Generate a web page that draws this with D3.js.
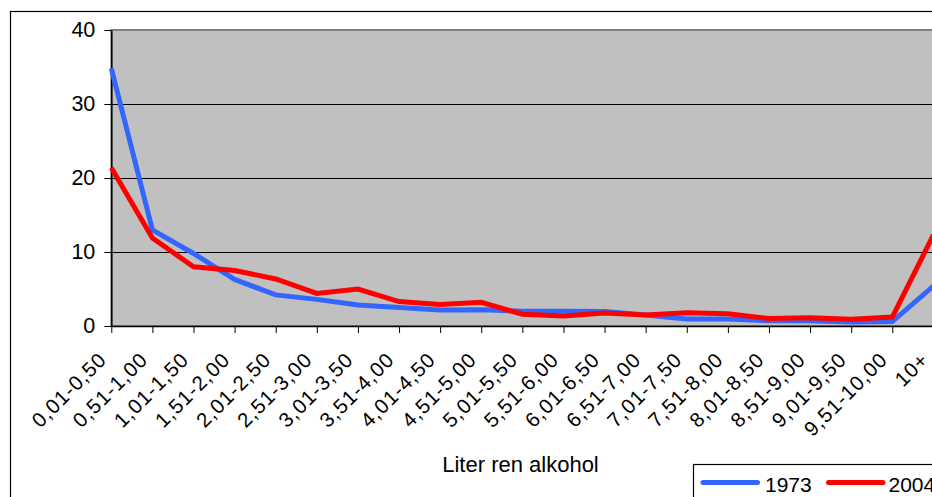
<!DOCTYPE html>
<html>
<head>
<meta charset="utf-8">
<script src="https://cdn.jsdelivr.net/npm/d3@7"></script>
<style>
	body { margin: 0; background: #fff; }
	svg { display: block; font-family: "Liberation Sans", Arial, sans-serif; }
</style>
</head>
<body>
<div id="canvas"></div>
<script>
const categories = ["0,01-0,50", "0,51-1,00", "1,01-1,50", "1,51-2,00", "2,01-2,50", "2,51-3,00",
	"3,01-3,50", "3,51-4,00", "4,01-4,50", "4,51-5,00", "5,01-5,50", "5,51-6,00", "6,01-6,50",
	"6,51-7,00", "7,01-7,50", "7,51-8,00", "8,01-8,50", "8,51-9,00", "9,01-9,50", "9,51-10,00", "10+"];
const values1973 = [34.8, 13.0, 9.8, 6.3, 4.2, 3.6, 2.85, 2.5, 2.15, 2.2, 2.0, 2.0, 1.95,
	1.5, 0.95, 0.95, 0.7, 0.7, 0.55, 0.6, 5.4];
const values2004 = [21.4, 11.9, 8.0, 7.5, 6.35, 4.4, 5.0, 3.3, 2.9, 3.2, 1.6, 1.35, 1.75,
	1.5, 1.8, 1.65, 1.0, 1.1, 0.9, 1.2, 12.3];
const yTicks = [0, 10, 20, 30, 40];
const seriesNames = ["1973", "2004"];
const seriesColors = ["#3366FF", "#FF0000"];

const width = 932, height = 497;
const plot = {left: 111.3, right: 933.4, top: 30, bottom: 326};

const svg = d3.select("#canvas").append("svg")
	.attr("width", width).attr("height", height)

// chart area border
svg.append("rect")
	.attr("x", 10.5).attr("y", 11.5)
	.attr("width", 1000).attr("height", 600)
	.attr("fill", "#fff").attr("stroke", "#000").attr("stroke-width", 1.2)

const x = d3.scalePoint().domain(categories).range([plot.left, plot.right]).padding(0)
const y = d3.scaleLinear().domain([0, 40]).range([plot.bottom, plot.top])

svg.append("rect")
	.attr("x", plot.left).attr("y", plot.top)
	.attr("width", plot.right - plot.left).attr("height", plot.bottom - plot.top)
	.attr("fill", "#C0C0C0").attr("stroke", "#808080").attr("stroke-width", 2)

svg.append("g").selectAll("line")
	.data(yTicks.filter(d => d > 0 && d < 40))
	.join("line")
	.attr("x1", plot.left).attr("x2", plot.right)
	.attr("y1", d => Math.round(y(d)) + 0.5).attr("y2", d => Math.round(y(d)) + 0.5)
	.attr("stroke", "#000").attr("stroke-width", 1)

const yAxis = svg.append("g")
	.attr("transform", `translate(${plot.left},0)`)
	.call(d3.axisLeft(y).tickValues(yTicks).tickSize(7).tickPadding(9).tickSizeOuter(0))
yAxis.select(".domain").attr("stroke", "#000").attr("stroke-width", 1.5)
yAxis.selectAll(".tick line").attr("stroke", "#000")
yAxis.selectAll("text").attr("font-size", 21.5).attr("fill", "#000")
	.attr("font-family", "Liberation Sans, Arial, sans-serif")

const xAxis = svg.append("g")
	.attr("transform", `translate(0,${plot.bottom})`)
	.call(d3.axisBottom(x).tickSize(7).tickSizeOuter(0))
xAxis.select(".domain").attr("stroke", "#000").attr("stroke-width", 1.5)
xAxis.selectAll(".tick line").attr("stroke", "#000")
xAxis.selectAll("text")
	.attr("font-size", 20.5).attr("fill", "#000")
	.attr("font-family", "Liberation Sans, Arial, sans-serif")
	.attr("letter-spacing", "1px")
	.attr("text-anchor", "end")
	.attr("dy", "0.35em")
	.attr("transform", "translate(-9,30) rotate(-45)")
	.attr("y", 0).attr("x", 0)

const line = d3.line().x((d, i) => x(categories[i])).y(d => y(d))

svg.append("g").selectAll("path")
	.data([values1973, values2004])
	.join("path")
	.attr("d", line)
	.attr("fill", "none")
	.attr("stroke", (d, i) => seriesColors[i])
	.attr("stroke-width", 5)
	.attr("stroke-linejoin", "miter")

svg.append("text")
	.attr("x", 520.5).attr("y", 472)
	.attr("text-anchor", "middle")
	.attr("font-size", 22)
	.text("Liter ren alkohol")

// legend, cut off at the right edge like the original
const legend = svg.append("g").attr("transform", "translate(693.5,464.5)")
legend.append("rect")
	.attr("width", 400).attr("height", 100)
	.attr("fill", "#fff").attr("stroke", "#000").attr("stroke-width", 1.2)

const item = legend.selectAll("g.item")
	.data(seriesNames)
	.join("g").attr("class", "item")
	.attr("transform", (d, i) => `translate(${7 + i * 125.5},18)`)
item.append("line")
	.attr("x1", 2.5).attr("x2", 57)
	.attr("stroke", (d, i) => seriesColors[i])
	.attr("stroke-width", 5).attr("stroke-linecap", "round")
item.append("text")
	.attr("x", (d, i) => 64.5 - i * 2)
	.attr("y", 9.5)
	.attr("font-size", 21)
	.text(d => d)
</script>
</body>
</html>
